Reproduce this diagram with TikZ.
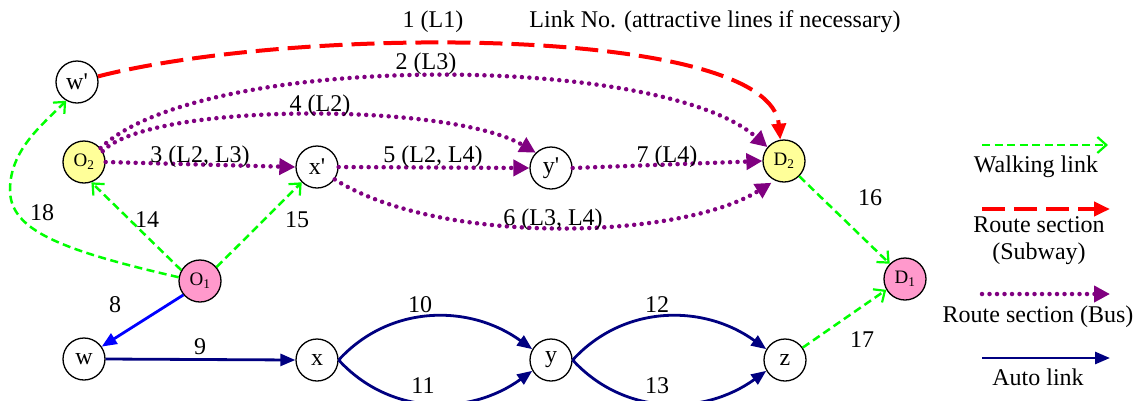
\documentclass[tikz,border=0pt]{standalone}
\usepackage{fontspec}
\setmainfont{Liberation Serif}
\usetikzlibrary{arrows.meta}
\definecolor{walkgreen}{RGB}{0,255,0}
\definecolor{subred}{RGB}{255,0,0}
\definecolor{buspurple}{RGB}{128,0,128}
\definecolor{autonavy}{RGB}{0,0,128}
\definecolor{autoblue}{RGB}{0,0,255}
\definecolor{nodeyellow}{RGB}{255,255,153}
\definecolor{nodepink}{RGB}{255,153,204}
\newcommand{\prm}{\textquotesingle}
\begin{document}
\begin{tikzpicture}[x=1pt,y=-1pt,
  font=\fontsize{24}{26}\selectfont,
  nd/.style={circle,draw=black,line width=1.3pt,minimum size=42pt,inner sep=0pt,fill=white},
  ndy/.style={nd,fill=nodeyellow,font=\fontsize{19}{20}\selectfont},
  ndp/.style={nd,fill=nodepink,font=\fontsize{19}{20}\selectfont},
  walk/.style={draw=walkgreen,line width=2.5pt,dash pattern=on 8pt off 4.5pt,-{Straight Barb[length=9pt,width=16pt,line width=2.2pt]}},
  subway/.style={draw=subred,line width=4pt,dash pattern=on 23pt off 9pt,-{Triangle[length=16pt,width=14pt]}},
  bus/.style={draw=buspurple,line width=4.5pt,line cap=round,dash pattern=on 0pt off 7.5pt,-{Triangle[length=16pt,width=16pt]}},
  auto/.style={draw=autonavy,line width=2.8pt,-{Triangle[length=15pt,width=12pt]}},
  autob/.style={draw=autoblue,line width=2.8pt,-{Triangle[length=15pt,width=12pt]}},
  lbl/.style={inner sep=0pt}]
\useasboundingbox (0,0) rectangle (1147,400);

% nodes
\node[nd] (wp) at (77,82) {w\prm};
\node[ndy] (O2) at (84,162) {O\textsubscript{2}};
\node[nd] (xp) at (317,167) {x\prm};
\node[nd] (yp) at (551,168) {y\prm};
\node[ndy] (D2) at (784,161) {D\textsubscript{2}};
\node[ndp] (O1) at (200,281) {O\textsubscript{1}};
\node[ndp] (D1) at (905,279) {D\textsubscript{1}};
\node[nd] (w) at (84,359) {w};
\node[nd] (x) at (317,360) {x};
\node[nd] (y) at (551,360) {y};
\node[nd] (z) at (785,360) {z};

% subway link 1
\draw[subway] (wp.15) .. controls (300,25) and (770,25) .. (D2.100);
% bus links
\draw[bus] (O2.40) .. controls (200,52) and (660,52) .. (D2.140);
\draw[bus] (O2.30) .. controls (150,102) and (450,102) .. (yp.135);
\draw[bus] (O2.east) -- (xp.west);
\draw[bus] (xp.east) -- (yp.west);
\draw[bus] (yp.east) -- (D2.west);
\draw[bus,shorten >=4pt] (xp.-35) .. controls (440,246) and (680,240) .. (D2.245);
% walking links
\draw[walk] (O1.170) .. controls (60,250) and (10,230) .. (10,190) .. controls (10,150) and (42,125) .. (wp.240);
\draw[walk] (O1.150) -- (O2.-70);
\draw[walk] (O1.40) -- (xp.-135);
\draw[walk] (D2.-45) -- (D1.135);
\draw[walk] (z.35) -- (D1.-150);
% auto links
\draw[autob] (O1.-140) -- (w.35);
\draw[auto] (w.east) -- (x.west);
\draw[auto] (x.east) .. controls (390,304) and (470,304) .. (y.150);
\draw[auto] (x.east) .. controls (390,416) and (470,416) .. (y.-150);
\draw[auto] (y.east) .. controls (624,304) and (704,304) .. (z.150);
\draw[auto] (y.east) .. controls (624,416) and (704,416) .. (z.-150);

% link labels
\node[lbl] (l1) at (433,22) {1 (L1)};
\node[lbl] (lt) at (715,22) {Link No. (attractive lines if necessary)};
\node[lbl] (l2) at (426,64) {2 (L3)};
\node[lbl] (l4) at (320,106) {4 (L2)};
\node[lbl] (l3) at (200,157) {3 (L2, L3)};
\node[lbl] (l5) at (433,157) {5 (L2, L4)};
\node[lbl] (l7) at (667,157) {7 (L4)};
\node[lbl] (l6) at (553,220) {6 (L3, L4)};
\node[lbl] (l18) at (42,213) {18};
\node[lbl] (l14) at (147,220) {14};
\node[lbl] (l15) at (297,220) {15};
\node[lbl] (l16) at (870,198) {16};
\node[lbl] (l8) at (115,305) {8};
\node[lbl] (l9) at (200,347) {9};
\node[lbl] (l10) at (420,305) {10};
\node[lbl] (l11) at (423,386) {11};
\node[lbl] (l12) at (657,305) {12};
\node[lbl] (l13) at (657,386) {13};
\node[lbl] (l17) at (862,340) {17};

% legend
\coordinate (gA) at (982,145); \coordinate (gB) at (1108,145);
\draw[walk] (gA) -- (gB);
\node[lbl] (gT) at (1036,167) {Walking link};
\coordinate (rA) at (982,209); \coordinate (rB) at (1110,209);
\draw[subway] (rA) -- (rB);
\node[lbl] (rT1) at (1039,225) {Route section};
\node[lbl] (rT2) at (1039,254) {(Subway)};
\coordinate (pA) at (982,294); \coordinate (pB) at (1110,294);
\draw[bus] (pA) -- (pB);
\node[lbl] (pT) at (1038,317) {Route section (Bus)};
\coordinate (aA) at (982,358); \coordinate (aB) at (1110,358);
\draw[auto] (aA) -- (aB);
\node[lbl] (aT) at (1038,377) {Auto link};
\end{tikzpicture}
\end{document}
